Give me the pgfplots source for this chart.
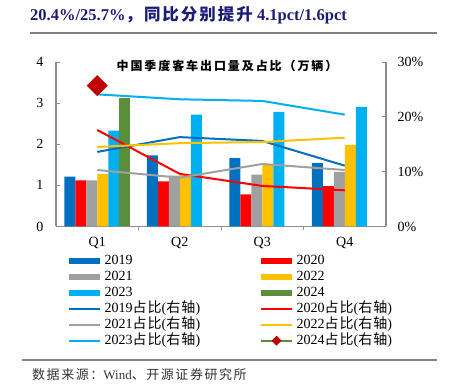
\documentclass[border=0pt]{standalone}
\usepackage{fontspec}
\setmainfont{Liberation Serif}
\newfontfamily\cjk{Noto Sans CJK SC}
\newfontfamily\cjkh{Noto Sans CJK SC}[LetterSpace=12]
\newfontfamily\cjkt{Noto Sans CJK SC}[LetterSpace=16]
\newfontfamily\cjkl{Noto Sans CJK SC}[LetterSpace=8]
\usepackage{pgfplots}
\pgfplotsset{compat=1.18}
\definecolor{c19}{HTML}{0070C0}
\definecolor{c20}{HTML}{FF0000}
\definecolor{c21}{HTML}{A0A0A0}
\definecolor{c22}{HTML}{FFC000}
\definecolor{c23}{HTML}{00B0F0}
\definecolor{c24}{HTML}{5B8E3A}
\definecolor{c24m}{HTML}{C00000}
\definecolor{navy}{RGB}{28,28,120}
\definecolor{axgray}{HTML}{8C8C8C}
\begin{document}
\begin{tikzpicture}[x=1pt,y=1pt]
\path[use as bounding box] (0,0) rectangle (451,391);
% header
\node[anchor=west, text=navy, inner sep=0pt, font=\fontsize{16.5}{16.5}\selectfont\bfseries] at (30,376)
  {20.4\%/25.7\%{\cjkh\bfseries ，同比分别提升} 4.1pct/1.6pct};
\draw[gray, line width=1.6pt] (30,358) -- (437,358);
% footer
\draw[gray, line width=1.2pt] (22,31) -- (437,31);
\node[anchor=west, inner sep=0pt, text=black!80, font=\fontsize{13}{13}\selectfont] at (32,16)
  {{\cjkh 数据来源：}Wind{\cjkh 、开源证券研究所}};

\begin{axis}[at={(56pt,164.5pt)}, anchor=south west, scale only axis,
  width=330pt, height=164.5pt,
  xmin=-0.5, xmax=3.5, ymin=0, ymax=4, ytick={0,1,2,3,4},
  axis y line*=left, axis x line*=bottom,
  axis line style={draw=axgray, line width=1.3pt},
  xtick={0.5,1.5,2.5}, xticklabels={},
  extra x ticks={0,1,2,3}, extra x tick labels={Q1,Q2,Q3,Q4},
  extra x tick style={major tick length=0pt, tick label style={yshift=-7pt}},
  major tick length=4pt, tick style={draw=axgray, line width=0.8pt},
  ybar=0pt, bar width=11pt,
  tick label style={font=\fontsize{14}{14}\selectfont},
  yticklabel style={xshift=-9pt},
  /pgf/number format/assume math mode=true,
  clip=false]
\addplot[fill=c19, draw=none] coordinates {(0,1.21) (1,1.73) (2,1.66) (3,1.54)};
\addplot[fill=c20, draw=none] coordinates {(0,1.12) (1,1.10) (2,0.78) (3,0.98)};
\addplot[fill=c21, draw=none] coordinates {(0,1.12) (1,1.24) (2,1.26) (3,1.33)};
\addplot[fill=c22, draw=none] coordinates {(0,1.28) (1,1.25) (2,1.50) (3,1.98)};
\addplot[fill=c23, draw=none] coordinates {(0,2.33) (1,2.72) (2,2.79) (3,2.91)};
\addplot[fill=c24, draw=none] coordinates {(0,3.13)};
\end{axis}

\begin{axis}[at={(56pt,164.5pt)}, anchor=south west, scale only axis,
  width=330pt, height=164.5pt,
  xmin=-0.5, xmax=3.5, ymin=0, ymax=30, ytick={0,10,20,30},
  yticklabel={\pgfmathprintnumber{\tick}\%},
  axis y line*=right, axis x line=none,
  axis line style={draw=axgray, line width=1.3pt},
  major tick length=4pt, tick style={draw=axgray, line width=0.8pt},
  tick label style={font=\fontsize{14}{14}\selectfont},
  yticklabel style={xshift=8pt},
  /pgf/number format/assume math mode=true,
  clip=false,
  legend image code/.code={\draw[#1] (0pt,0pt) -- (31pt,0pt);},
  legend columns=2, legend cell align=left,
  legend style={at={(0.03,-0.158)}, anchor=north west, draw=none, fill=none,
    inner sep=0pt, row sep=0pt,
    font=\fontsize{14}{14}\selectfont,
    nodes={inner sep=1.5pt, text height=10pt, text depth=3pt, text width=152pt, align=left}},
  ]
\addlegendimage{line width=6pt, c19}
\addlegendimage{line width=6pt, c20}
\addlegendimage{line width=6pt, c21}
\addlegendimage{line width=6pt, c22}
\addlegendimage{line width=6pt, c23}
\addlegendimage{line width=6pt, c24}
\addplot[c19, line width=2pt, mark=none] coordinates {(0,13.6) (1,16.3) (2,15.6) (3,11.1)};
\addplot[c20, line width=2pt, mark=none] coordinates {(0,17.6) (1,9.6) (2,7.4) (3,6.6)};
\addplot[c21, line width=2pt, mark=none] coordinates {(0,10.3) (1,8.9) (2,11.4) (3,10.3)};
\addplot[c22, line width=2pt, mark=none] coordinates {(0,14.5) (1,15.2) (2,15.4) (3,16.2)};
\addplot[c23, line width=2pt, mark=none] coordinates {(0,24.1) (1,23.2) (2,22.9) (3,20.4)};
\addplot[c24, line width=2pt, mark=square*, mark size=6.4pt,
  mark options={fill=c24m, draw=c24m, rotate=45},
  legend image code/.code={\draw[c24, line width=2pt] (0pt,0pt) -- (31pt,0pt);
    \fill[c24m] (15.5pt,3.5pt) -- (19pt,0pt) -- (15.5pt,-3.5pt) -- (12pt,0pt) -- cycle;}]
  coordinates {(0,25.7)};
\legend{2019,2020,2021,2022,2023,2024,
  2019{\cjkl 占比}({\cjkl 右轴}),2020{\cjkl 占比}({\cjkl 右轴}),
  2021{\cjkl 占比}({\cjkl 右轴}),2022{\cjkl 占比}({\cjkl 右轴}),
  2023{\cjkl 占比}({\cjkl 右轴}),2024{\cjkl 占比}({\cjkl 右轴})}
\end{axis}

\node[font=\fontsize{12}{12}\selectfont\cjkt\bfseries, inner sep=0pt] at (227,325)
  {中国季度客车出口量及占比（万辆）};
\end{tikzpicture}
\end{document}
